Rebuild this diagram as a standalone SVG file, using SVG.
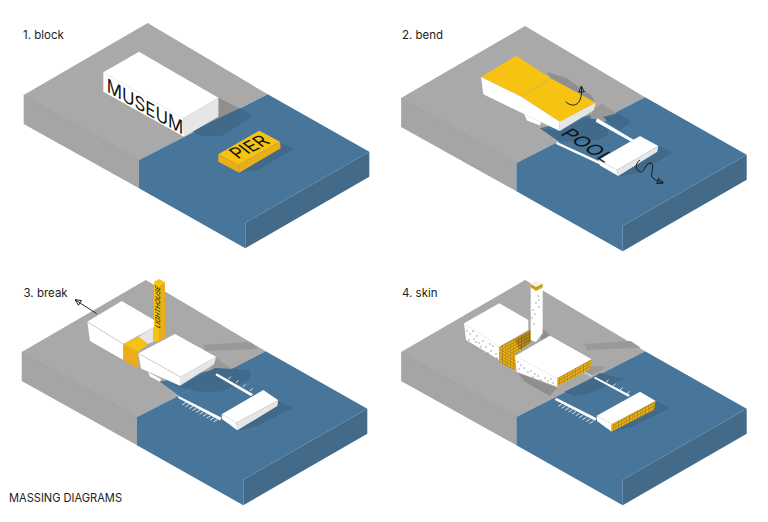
<svg xmlns="http://www.w3.org/2000/svg" width="768" height="522" viewBox="0 0 768 522">
<style>
text{font-family:"Inter","Liberation Sans",sans-serif;fill:#1c1c1c}
.lab{font-size:11.5px;font-weight:400}
.bt{font-weight:400;fill:#111;opacity:.99}
.w{fill:#fff}.l{fill:#e6e6e6}.y{fill:#f7c312}.y2{fill:#e9ae18}
.sg{fill:#8f8f8f}.sw{fill:#41698a}.sb{fill:#999}.bl{fill:#48769a}
.e{fill:none;stroke:#9a9a9a;stroke-width:.4}
.t{fill:none;stroke:#e8eef2;stroke-width:.9}
.d{fill:none;stroke:#222;stroke-width:1;stroke-linecap:round}
.a{fill:none;stroke:#111;stroke-width:.9}
</style>
<defs>
<pattern id="mR" patternUnits="userSpaceOnUse" width="2.7" height="3" patternTransform="skewY(-29)"><rect width="2.7" height="3" fill="#eeb318"/><path d="M0 0H2.7M0 0V3" stroke="#5e4a14" stroke-width=".6"/></pattern>
<pattern id="mL" patternUnits="userSpaceOnUse" width="2.7" height="3" patternTransform="skewY(29)"><rect width="2.7" height="3" fill="#eeb318"/><path d="M0 0H2.7M0 0V3" stroke="#5e4a14" stroke-width=".6"/></pattern>
<marker id="head" viewBox="0 0 10 10" refX="9.5" refY="5" markerWidth="7" markerHeight="7" markerUnits="userSpaceOnUse" orient="auto"><path d="M1 1L9.5 5L1 9Z" fill="none" stroke="#111" stroke-width="1.200"/></marker>
<g id="base">
<polygon fill="#a9a9a9" points="147.7,23 267.7,94.3 139,160 23.7,95"/>
<polygon fill="#a5a5a5" points="23.7,95 139,160 139,188.3 23.7,124"/>
<polygon class="bl" points="267.7,94.3 369.3,151.7 245.3,222.7 245.3,248.3 139,188.3 139,160"/>
<polygon fill="#436a88" points="245.3,222.7 369.3,151.7 369.3,176.7 245.3,248.3"/>
<path d="M23.7 95L139 160" fill="none" stroke="#8a8a8a" stroke-width=".5"/>
</g>
</defs>
<rect width="768" height="522" fill="#fff"/>

<g id="panel-1">
<use href="#base"/>
<text class="lab" x="23" y="38.500">1. block</text>
<g id="museum-block">
<polygon class="sg" points="218.300,97.700 240,108.500 193,132 184,136.700 218.300,116.700"/>
<polygon class="sw" points="240,108 253,116 222,136 200,136 192,131"/>
<polygon class="w" points="139,51.700 218.300,97.700 183.300,118.300 103.300,72.300"/>
<polygon class="w" points="103.300,72.300 183.300,118.300 184,136.700 103.300,91.700"/>
<polygon class="l" points="183.300,118.300 218.300,97.700 218.300,116.700 184,136.700"/>
<text class="bt" transform="matrix(.87 .494 0 1 106.700 91.500)" font-size="19" textLength="88" lengthAdjust="spacingAndGlyphs">MUSEUM</text>
</g>
<g id="pier-block">
<polygon class="sw" points="280,141.700 293.500,149 258,170 239.300,172.700"/>
<polygon class="y" points="259.300,130.700 280,141.700 238.300,165 218.300,154.300"/>
<polygon class="y2" points="218.300,154.300 238.300,165 239.300,172.700 218.300,161.700"/>
<polygon class="y2" points="238.300,165 280,141.700 280.700,148.300 239.300,172.700"/>
<text class="bt" transform="matrix(.896 -.444 1.090 .88 237.700 159.300)" font-size="13.500" textLength="37" lengthAdjust="spacingAndGlyphs">PIER</text>
</g>
</g>

<g id="panel-2">
<use href="#base" transform="translate(377.400 3)"/>
<text class="lab" x="402" y="38.500">2. bend</text>
<polygon class="sg" points="547,72 566,78 591,95 595.700,102.700 550.700,78.300"/>
<g id="pool-pier">
<polygon class="bl" points="540,128.300 558.300,141 600,119.500 590,115"/>
<polygon class="sb" points="594,108 602,104 619,115 603,122 590,118"/>
<polygon class="sw" points="540,128.300 560,131 585,118 600,120 609,126 608,135 598,140 580,141 558.300,141"/>
<polygon class="sw" points="603,117 619,113 631,122 620,130 612,125"/>
<polygon class="sw" points="658,145 672,153 637,173 617,177"/>
<polygon class="w" points="597.300,118.300 634,140 631.300,141.700 595.700,121.700"/>
<polygon class="w" points="556.700,141.700 600.700,162 600,164.500 556,144"/>
<polygon class="w" points="640,136 658.300,146 616.700,170 598.300,160"/>
<polygon class="w" points="598.300,160 616.700,170 618.300,176 600,165.500"/>
<polygon class="l" points="616.700,170 658.300,146 657.300,151.700 618.300,176"/>
<text class="bt" transform="matrix(.84 .54 -.95 .55 559.500 134)" font-size="17" textLength="54" lengthAdjust="spacingAndGlyphs">POOL</text>
</g>
<g id="bent-block">
<polygon class="w" points="524,114 541,122 540,125.500 527,120.500"/>
<polygon class="y" points="516.300,55.700 550.700,78.300 595.700,102.700 559.700,121.700 521.300,96.700 481,77"/>
<path class="e" d="M550.700 78.300L521.300 96.700"/>
<polygon class="w" points="481,77 521.300,96.700 559.700,121.700 559.700,131 483.300,94.300"/>
<polygon class="l" points="559.700,121.700 595.700,102.700 594,110 559.700,131"/>
</g>
</g>

<g id="panel-3">
<use href="#base" transform="translate(-2 257)"/>
<text class="lab" x="23.500" y="296.500">3. break</text>
<polygon class="sb" points="203,345 250,342 258,349 205,351"/>
<g id="pier-3">
<polygon class="bl" points="160,381.700 179.300,396 217,375 212,370"/>
<polygon class="sb" points="216.700,358.300 233,370 216.700,373.300 210,370.700"/>
<polygon class="sw" points="160,381.700 180,386 215,368 233,369 250,370 250,378 240,384 230,388 220,391.700 200,391.700 183,388"/>
<polygon class="sw" points="278.300,400.300 292.700,408 257,426 238,431"/>
<polygon class="w" points="216.700,373.300 253.300,394.300 250.700,396 215.500,375.300"/>
<polygon class="w" points="178.500,396 221.700,417.700 220,420.500 178,398"/>
<path class="t" d="M186 402.500l-4 2.300M189.500 404.400l-4 2.300M193 406.300l-4 2.300M196.500 408.200l-4 2.300M200 410.100l-4 2.300M203.500 412l-4 2.300M207 413.900l-4 2.300M210.500 415.800l-4 2.300M214 417.700l-4 2.300M217.500 419.600l-4 2.300M228.300 379.300l2.500-2.800M236 383l2.500-2.800M243 387l2.500-2.800M250 391l2.500-2.800"/>
<polygon class="w" points="263.300,390 278.300,400.300 236.300,422.700 221.700,414.300"/>
<polygon class="w" points="221.700,414.300 236.300,422.700 237.300,430.300 222,419"/>
<polygon class="l" points="236.300,422.700 278.300,400.300 277.300,406 237.300,430.300"/>
</g>
<g id="back-wing-3">
<polygon class="w" points="121.700,301 154,320 154,327 123.300,344 87.300,321.700"/>
<polygon class="w" points="87.300,321.700 123.300,344 123.300,360 90,341"/>
<path class="e" d="M87.300 321.700L123.300 344"/>
<polygon class="l" points="138.300,336.700 153.300,327 153.300,341.700 148,344"/>
<polygon class="y" points="123.300,344 138.300,336.700 148,344 138.300,352"/>
<polygon class="y2" points="123.300,344 138.300,352 138.300,369 123.300,360"/>
</g>
<g id="lighthouse-3">
<polygon class="y" points="154,281.700 159.300,279 165,282.300 159.300,285"/>
<polygon class="y" points="154,281.700 159.300,285 159.300,341 154,342"/>
<polygon class="y2" points="159.300,285 165,282.300 165,337 159.300,341"/>
<text class="bt" transform="matrix(0 -1 .87 .5 159.800 329)" font-size="7.500" textLength="42" lengthAdjust="spacingAndGlyphs">LIGHTHOUSE</text>
</g>
<g id="front-wing-3">
<polygon class="w" points="148,372 161,379 160,381.700 150,376.500"/>
<polygon class="w" points="175,334 216,356.700 180,376.700 138.300,353.300"/>
<polygon class="w" points="138.300,353.300 180,376.700 180,385.700 141,368.500"/>
<path class="e" d="M138.300 353.300L180 376.700"/>
<polygon class="l" points="180,376.700 216,356.700 214,364.300 180,385.700"/>
</g>
</g>

<g id="panel-4">
<use href="#base" transform="translate(377.400 257)"/>
<text class="lab" x="402" y="296.500">4. skin</text>
<polygon class="sb" points="584,344 630.700,341 640.700,347.700 587,350"/>
<polygon class="sg" points="517,372 557,388 550,396 525,382"/>
<polygon class="sg" points="541.700,328 550,335 541,340"/>
<g id="pier-4">
<polygon class="sb" points="592,366 607,367 590,376 585,370"/>
<polygon class="sw" points="564,392 590,379 600,373 625,379 590,393 575,396"/>
<polygon class="sw" points="655.700,401 670,408 632,427 612,432"/>
<polygon fill="#c9d3da" points="585,371.700 593,375.700 592,377 584,373"/>
<polygon class="w" points="595,376.700 630,395 628.300,396.700 594,378.300"/>
<polygon class="w" points="556,397.700 596.700,418.300 595,420.700 555,400"/>
<path class="t" d="M562 404l-4 2.300M565.500 405.900l-4 2.300M569 407.800l-4 2.300M572.500 409.700l-4 2.300M576 411.600l-4 2.300M579.500 413.500l-4 2.300M583 415.400l-4 2.300M586.500 417.300l-4 2.300M590 419.200l-4 2.300M593.500 421.100l-4 2.300M606 382.500l2.500-2.800M613 386.400l2.500-2.800M620 390.200l2.500-2.800M627 394l2.500-2.800"/>
<polygon class="w" points="640,391.700 655.700,401 611.700,424.300 596.700,415.700"/>
<polygon class="w" points="596.700,415.700 611.700,424.300 611.700,431.700 597,421"/>
<polygon fill="url(#mR)" points="611.700,424.300 655.700,401 654,410 611.700,431.700"/>
</g>
<g id="back-wing-4">
<polygon class="w" points="499.300,303.300 528.300,320 528.300,330 499.300,346.700 464,323.300"/>
<polygon class="w" points="464,323.300 499.300,346.700 499.300,360 466,340"/>
<polygon fill="url(#mR)" points="499.300,346.700 531,330 531,341.700 515,355"/>
<polygon fill="#3d2f08" opacity=".3" points="515,340 531,330 531,341.700 520,350"/>
<polygon fill="url(#mL)" points="499.300,346.700 515,355 515,370 499.300,363"/>
<path class="d" d="M467 331h0M470 334h0M473 331h0M469 340h0M474 339h0M477 336h0M479 343h0M483 341h0M486 347h0M490 344h0M491 351h0M493 346h0M496 354h0M497 358h0M488 353h0M481 347h0M476 342h0"/>
</g>
<g id="lighthouse-4">
<polygon class="w" points="530.700,285.700 536,290.700 536,342 530.700,340"/>
<polygon class="w" points="536,290.700 542.700,285.700 542.700,333 536,341.700"/>
<polygon fill="url(#mL)" points="530,283.500 536,287 536,291 530.700,287.500"/>
<polygon fill="url(#mR)" points="536,287 542.700,283.500 542.700,287.500 536,291"/>
<polygon fill="#f5f1e4" points="530,283.500 536,280.700 542.700,283.500 536,287"/>
<path class="d" d="M538 296h0M539 300h0M536 303h0M539 307h0M533 310h0M535 314h0M532 318h0M534 324h0"/>
</g>
<g id="front-wing-4">
<polygon class="w" points="550,335.700 591.700,359.300 557.300,378.300 515,356"/>
<polygon class="w" points="515,356 557.300,378.300 557.300,386.700 516.700,372"/>
<polygon fill="url(#mR)" points="557.300,378.300 591.700,359.300 590,369.300 558,386"/>
<path class="d" d="M518 362h0M521 365h0M519 369h0M524 368h0M528 372h0M531 371h0M535 374h0M533 377h0M538 376h0M541 380h0M545 378h0M548 381h0M551 379h0M553 383h0"/>
</g>
</g>

<g id="connectors">
<path class="a" marker-end="url(#head)" d="M565.700 101.700C570 106 577 107 580 100C582 95 581.500 90 581.300 86"/>
<path class="a" marker-end="url(#head)" d="M640 160C635 163 635 170 640 172C645 173 645 163 650 163C656 163 650 173 652 177C654 180 658 181 663.300 183"/>
<path class="a" marker-end="url(#head)" d="M96.700 313.700L75 299.700"/>
</g>

<text id="title" x="9" y="502" font-size="11.500" textLength="113" lengthAdjust="spacingAndGlyphs">MASSING DIAGRAMS</text>
</svg>
